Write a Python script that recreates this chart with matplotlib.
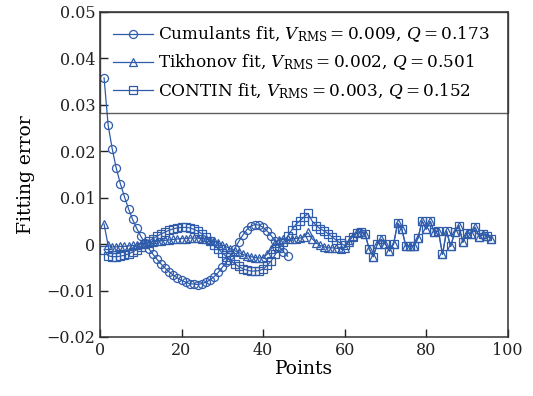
import numpy as np
import matplotlib
matplotlib.use("Agg")
import matplotlib.pyplot as plt

plt.rcParams['font.family'] = ['DejaVu Serif']
plt.rcParams['mathtext.fontset'] = 'dejavuserif'

cumulants = [0.0358, 0.0256, 0.0205, 0.0163, 0.0130, 0.0102, 0.0076, 0.0053, 0.0034, 0.0017,
             0.0003, -0.0010, -0.0022, -0.0033, -0.0043, -0.0052, -0.0060, -0.0067, -0.0073, -0.0078,
             -0.0082, -0.0085, -0.0086, -0.0087, -0.0085, -0.0082, -0.0077, -0.0070, -0.0061, -0.0050,
             -0.0038, -0.0024, -0.0010, 0.0005, 0.0019, 0.0031, 0.0039, 0.0042, 0.0041, 0.0036,
             0.0028, 0.0018, 0.0006, -0.0006, -0.0016, -0.0026]

tail = [-0.0010, -0.0027, 0.0000, 0.0010, 0.0000, -0.0015, 0.0000, 0.0045, 0.0033, -0.0004,
        -0.0004, -0.0004, 0.0013, 0.0050, 0.0032, 0.0049, 0.0025, 0.0028, -0.0022, 0.0028,
        -0.0005, 0.0026, 0.0040, 0.0004, 0.0024, 0.0022, 0.0036, 0.0016, 0.0021, 0.0017,
        0.0012]

tikhonov_head = [0.0043, -0.0003, -0.0006, -0.0006, -0.0005, -0.0005, -0.0004, -0.0003, -0.0002, 0.0000,
                 0.0002, 0.0003, 0.0005, 0.0006, 0.0007, 0.0008, 0.0009, 0.0010, 0.0011, 0.0012,
                 0.0012, 0.0013, 0.0013, 0.0013, 0.0012, 0.0011, 0.0009, 0.0006, 0.0002, -0.0002,
                 -0.0006, -0.0010, -0.0014, -0.0018, -0.0022, -0.0025, -0.0027, -0.0029, -0.0030, -0.0029,
                 -0.0022, -0.0010, 0.0002, 0.0009, 0.0010, 0.0010, 0.0011, 0.0012, 0.0013, 0.0015,
                 0.0025, 0.0012, 0.0003, -0.0003, -0.0006, -0.0008, -0.0008, -0.0009, -0.0010, -0.0008,
                 0.0005, 0.0018, 0.0026, 0.0026, 0.0022]

contin_head = [-0.0012, -0.0025, -0.0027, -0.0027, -0.0026, -0.0024, -0.0021, -0.0017, -0.0012, -0.0006,
               0.0000, 0.0006, 0.0012, 0.0017, 0.0022, 0.0026, 0.0030, 0.0033, 0.0035, 0.0036,
               0.0036, 0.0035, 0.0032, 0.0028, 0.0022, 0.0015, 0.0007, -0.0001, -0.0010, -0.0019,
               -0.0027, -0.0035, -0.0042, -0.0048, -0.0053, -0.0056, -0.0058, -0.0058, -0.0057, -0.0054,
               -0.0046, -0.0036, -0.0022, -0.0008, 0.0005, 0.0017, 0.0030, 0.0042, 0.0050, 0.0058,
               0.0066, 0.0050, 0.0040, 0.0033, 0.0028, 0.0022, 0.0015, 0.0008, 0.0002, -0.0003,
               0.0008, 0.0016, 0.0024, 0.0026, 0.0022]

tikhonov = tikhonov_head + tail
contin = contin_head + tail

labels = [r"Cumulants fit, $V_{\mathrm{RMS}}=0.009$, $Q=0.173$",
          r"Tikhonov fit, $V_{\mathrm{RMS}}=0.002$, $Q=0.501$",
          r"CONTIN fit, $V_{\mathrm{RMS}}=0.003$, $Q=0.152$"]

color = '#2f5bab'

fig = plt.figure(figsize=(5.33, 3.96), dpi=100)
ax = fig.add_axes([0.1876, 0.149, 0.765, 0.821])

kw = dict(color=color, lw=0.9, mfc='none', mec=color, mew=0.9, ms=5.8)
ax.plot(np.arange(1, len(cumulants) + 1), cumulants, marker='o', label=labels[0], **kw)
ax.plot(np.arange(1, len(tikhonov) + 1), tikhonov, marker='^', label=labels[1], **kw)
ax.plot(np.arange(1, len(contin) + 1), contin, marker='s', label=labels[2], **kw)

ax.set_xlim(0, 100)
ax.set_ylim(-0.02, 0.05)
ax.set_xticks([0, 20, 40, 60, 80, 100])
yt = [-0.02, -0.01, 0, 0.01, 0.02, 0.03, 0.04, 0.05]
ax.set_yticks(yt)
ax.set_yticklabels(["\u22120.02", "\u22120.01", "0", "0.01", "0.02", "0.03", "0.04", "0.05"])
ax.tick_params(direction='in', length=6, width=1.0, labelsize=11.5, colors='#222222',
               top=False, right=False)
for s in ax.spines.values():
    s.set_linewidth(1.1)
    s.set_color('#333333')

ax.set_xlabel("Points", fontsize=13.5, labelpad=1)
ax.set_ylabel("Fitting error", fontsize=13.5, labelpad=8)

leg = ax.legend(loc='upper left', bbox_to_anchor=(0, 1, 1, 0), mode='expand',
                borderaxespad=0, fontsize=12.2, frameon=True, fancybox=False,
                edgecolor='#333333', handlelength=2.35, handletextpad=0.35,
                labelspacing=0.5, borderpad=0.75)
leg.get_frame().set_linewidth(1.0)
leg.get_frame().set_facecolor('none')

fig.savefig("out.png", dpi=100)
